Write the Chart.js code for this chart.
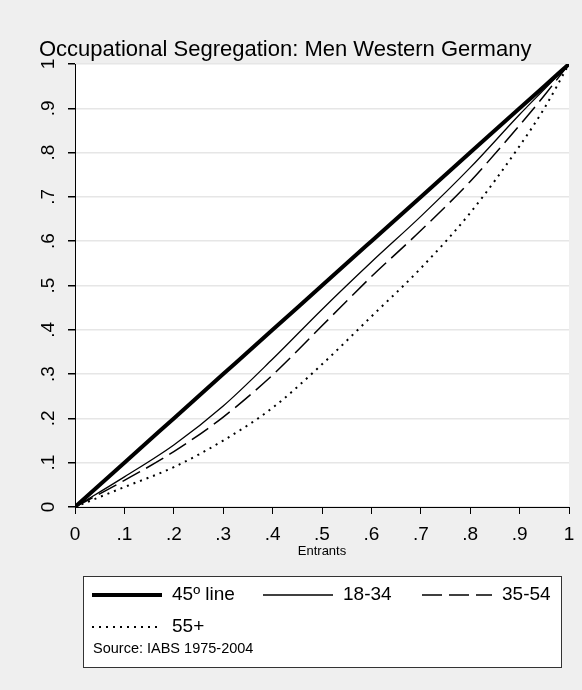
<!DOCTYPE html>
<html>
<head>
<meta charset="utf-8">
<script src="https://cdn.jsdelivr.net/npm/chart.js@4.4.1/dist/chart.umd.min.js"></script>
<style>
  body { margin: 0; background: #efefef; }
  canvas { display: block; }
</style>
</head>
<body>
<canvas id="chart" width="582" height="690"></canvas>
<script>
// === data ===
const shareEntrants = [0, 0.1, 0.2, 0.3, 0.4, 0.5, 0.6, 0.7, 0.8, 0.9, 0.95, 1];
const line45 = [0, 0.1, 0.2, 0.3, 0.4, 0.5, 0.6, 0.7, 0.8, 0.9, 0.95, 1];
const age18to34 = [0, 0.068, 0.14, 0.228, 0.334, 0.446, 0.553, 0.656, 0.766, 0.886, 0.943, 1];
const age35to54 = [0, 0.06, 0.125, 0.203, 0.298, 0.409, 0.52, 0.624, 0.735, 0.862, 0.929, 1];
const age55plus = [0, 0.045, 0.09, 0.15, 0.224, 0.322, 0.43, 0.539, 0.664, 0.815, 0.9, 1];

const seriesNames = ['45\u00ba line', '18-34', '35-54', '55+'];
const titleText = 'Occupational Segregation: Men Western Germany';
const xTitle = 'Entrants';
const sourceNote = 'Source: IABS 1975-2004';

const FONT = "'Liberation Sans', Arial, sans-serif";

function toPoints(ys) {
  return shareEntrants.map((x, i) => ({ x: x, y: ys[i] }));
}

function fmtTick(v) {
  if (v === 0) return '0';
  if (v === 1) return '1';
  return v.toFixed(1).replace(/^0/, '');
}

// title, rotated y labels, axis title, legend box
const decor = {
  id: 'decor',
  beforeDraw(chart) {
    const { ctx, chartArea: a } = chart;
    ctx.save();
    ctx.fillStyle = '#efefef';
    ctx.fillRect(0, 0, chart.width, chart.height);
    ctx.fillStyle = '#ffffff';
    ctx.fillRect(a.left, a.top, a.right - a.left, a.bottom - a.top);
    ctx.restore();
  },
  afterDraw(chart) {
    const { ctx, chartArea: a } = chart;
    ctx.save();
    ctx.fillStyle = '#000';

    ctx.font = '22px ' + FONT;
    ctx.textAlign = 'left';
    ctx.textBaseline = 'alphabetic';
    ctx.fillText(titleText, 39, 56);

    // y tick labels, rotated
    const ys = chart.scales.y;
    ctx.font = '19px ' + FONT;
    ys.ticks.forEach(t => {
      const py = ys.getPixelForValue(t.value);
      ctx.save();
      ctx.translate(54, py);
      ctx.rotate(-Math.PI / 2);
      ctx.textAlign = 'center';
      ctx.fillText(fmtTick(t.value), 0, 0);
      ctx.restore();
    });

    ctx.font = '13px ' + FONT;
    ctx.textAlign = 'center';
    ctx.textBaseline = 'middle';
    ctx.fillText(xTitle, (a.left + a.right) / 2, 551);

    // legend
    const box = { left: 83, top: 576, right: 562, bottom: 668 };
    ctx.fillStyle = '#ffffff';
    ctx.fillRect(box.left, box.top, box.right - box.left, box.bottom - box.top);
    ctx.strokeStyle = '#333';
    ctx.lineWidth = 1;
    ctx.strokeRect(box.left + 0.5, box.top + 0.5, box.right - box.left - 1, box.bottom - box.top - 1);

    const slots = [
      { x: 92, y: 595 }, { x: 263, y: 595 }, { x: 422, y: 595 }, { x: 92, y: 627 }
    ];
    chart.data.datasets.forEach((ds, i) => {
      const s = slots[i];
      ctx.save();
      ctx.strokeStyle = ds.borderColor;
      ctx.lineWidth = ds.borderWidth;
      ctx.setLineDash(ds.borderDash || []);
      ctx.beginPath();
      ctx.moveTo(s.x, s.y);
      ctx.lineTo(s.x + 70, s.y);
      ctx.stroke();
      ctx.restore();
      ctx.fillStyle = '#000';
      ctx.font = '19px ' + FONT;
      ctx.textAlign = 'left';
      ctx.textBaseline = 'middle';
      ctx.fillText(ds.label, s.x + 80, s.y);
    });

    ctx.font = '14.5px ' + FONT;
    ctx.textBaseline = 'middle';
    ctx.fillText(sourceNote, 93, 649);
    ctx.restore();
  }
};

const ctx = document.getElementById('chart').getContext('2d');

new Chart(ctx, {
  type: 'line',
  data: {
    datasets: [
      { label: seriesNames[0], data: toPoints(line45), borderColor: '#000', borderWidth: 4 },
      { label: seriesNames[1], data: toPoints(age18to34), borderColor: '#000', borderWidth: 1.3 },
      { label: seriesNames[2], data: toPoints(age35to54), borderColor: '#000', borderWidth: 1.5, borderDash: [20, 7] },
      { label: seriesNames[3], data: toPoints(age55plus), borderColor: '#000', borderWidth: 2, borderDash: [2, 5] }
    ]
  },
  options: {
    responsive: false,
    animation: false,
    devicePixelRatio: 1,
    layout: { padding: { top: 64, right: 13, left: 0, bottom: 0 } },
    elements: {
      point: { radius: 0 },
      line: { cubicInterpolationMode: 'monotone', fill: false }
    },
    plugins: {
      legend: { display: false },
      title: { display: false },
      tooltip: { enabled: false }
    },
    scales: {
      x: {
        type: 'linear',
        min: 0,
        max: 1,
        ticks: {
          stepSize: 0.1,
          color: '#000',
          font: { family: FONT, size: 19 },
          padding: 9,
          maxRotation: 0,
          callback: v => fmtTick(v)
        },
        grid: { drawOnChartArea: false, tickLength: 7, tickColor: '#000' },
        border: { color: '#000', width: 1 },
        afterFit(s) { s.height = 183; s.paddingLeft = 0; s.paddingRight = 0; }
      },
      y: {
        type: 'linear',
        min: 0,
        max: 1,
        ticks: { stepSize: 0.1, display: false },
        grid: { color: '#e6e6e6', lineWidth: 1.5, tickLength: 7, tickColor: '#000' },
        border: { color: '#000', width: 1 },
        afterFit(s) { s.width = 75; s.paddingTop = 0; s.paddingBottom = 0; }
      }
    }
  },
  plugins: [decor]
});
</script>
</body>
</html>
